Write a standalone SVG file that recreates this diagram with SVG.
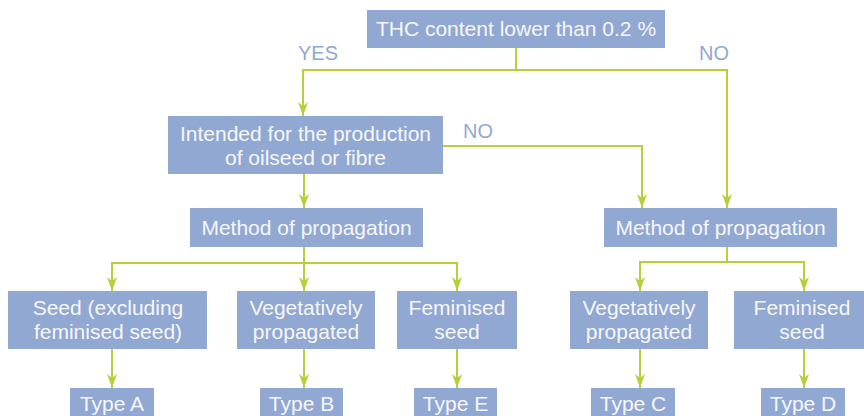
<svg xmlns="http://www.w3.org/2000/svg" width="864" height="416" viewBox="0 0 864 416">
<style>
.box{fill:#91a8d3}
.t{font-family:"Liberation Sans",Arial,sans-serif;font-size:21px;fill:#f7f7f7;text-anchor:middle}
.lbl{font-family:"Liberation Sans",Arial,sans-serif;font-size:20px;fill:#91a8d3}
.c{fill:none;stroke:#b6d03a;stroke-width:2}
</style>
<defs>
<marker id="ah" markerUnits="userSpaceOnUse" markerWidth="16" markerHeight="12" viewBox="0 -6 16 12" refX="14" refY="0" orient="auto">
<path d="M0,-5 L14,0 L0,5 L4,0 z" fill="#b6d03a"/>
</marker>
</defs>
<rect width="864" height="416" fill="#ffffff"/>
<g id="connectors">
<path class="c" d="M516,48 V70 H303 V116" marker-end="url(#ah)"/>
<path class="c" d="M516,70 H727 V208" marker-end="url(#ah)"/>
<path class="c" d="M443,146 H642 V208" marker-end="url(#ah)"/>
<path class="c" d="M304,174 V208" marker-end="url(#ah)"/>
<path class="c" d="M304,247 V263 H112 V291" marker-end="url(#ah)"/>
<path class="c" d="M304,263 V291" marker-end="url(#ah)"/>
<path class="c" d="M304,263 H457 V291" marker-end="url(#ah)"/>
<path class="c" d="M727,247 V262 H640 V291" marker-end="url(#ah)"/>
<path class="c" d="M727,262 H804 V291" marker-end="url(#ah)"/>
<path class="c" d="M112,349 V388" marker-end="url(#ah)"/>
<path class="c" d="M304,349 V388" marker-end="url(#ah)"/>
<path class="c" d="M457,349 V388" marker-end="url(#ah)"/>
<path class="c" d="M640,349 V388" marker-end="url(#ah)"/>
<path class="c" d="M804,349 V388" marker-end="url(#ah)"/>
<text class="lbl" x="298" y="60">YES</text>
<text class="lbl" x="699" y="60">NO</text>
<text class="lbl" x="463" y="138">NO</text>
</g>
<g id="thc"><rect class="box" x="367" y="10" width="298" height="38"/><text class="t" x="516" y="36">THC content lower than 0.2 %</text></g>
<g id="intended"><rect class="box" x="168" y="116" width="275" height="58"/><text class="t" x="305.5" y="141">Intended for the production</text><text class="t" x="305.5" y="165">of oilseed or fibre</text></g>
<g id="method-left"><rect class="box" x="190" y="208" width="233" height="39"/><text class="t" x="306.5" y="235">Method of propagation</text></g>
<g id="method-right"><rect class="box" x="604" y="208" width="233" height="39"/><text class="t" x="720.5" y="235">Method of propagation</text></g>
<g id="seed"><rect class="box" x="8" y="291" width="199" height="58"/><text class="t" x="108" y="315">Seed (excluding</text><text class="t" x="108" y="339">feminised seed)</text></g>
<g id="veg-left"><rect class="box" x="237" y="291" width="138" height="58"/><text class="t" x="306" y="315">Vegetatively</text><text class="t" x="306" y="339">propagated</text></g>
<g id="fem-left"><rect class="box" x="397" y="291" width="120" height="58"/><text class="t" x="457" y="315">Feminised</text><text class="t" x="457" y="339">seed</text></g>
<g id="veg-right"><rect class="box" x="570" y="291" width="138" height="58"/><text class="t" x="639" y="315">Vegetatively</text><text class="t" x="639" y="339">propagated</text></g>
<g id="fem-right"><rect class="box" x="734" y="291" width="130" height="58"/><text class="t" x="802" y="315">Feminised</text><text class="t" x="802" y="339">seed</text></g>
<g id="type-a"><rect class="box" x="70" y="388" width="84" height="30"/><text class="t" x="112" y="411">Type A</text></g>
<g id="type-b"><rect class="box" x="260" y="388" width="83" height="30"/><text class="t" x="301.5" y="411">Type B</text></g>
<g id="type-e"><rect class="box" x="414" y="388" width="83" height="30"/><text class="t" x="455.5" y="411">Type E</text></g>
<g id="type-c"><rect class="box" x="591" y="388" width="84" height="30"/><text class="t" x="633" y="411">Type C</text></g>
<g id="type-d"><rect class="box" x="761" y="388" width="84" height="30"/><text class="t" x="803" y="411">Type D</text></g>
</svg>
